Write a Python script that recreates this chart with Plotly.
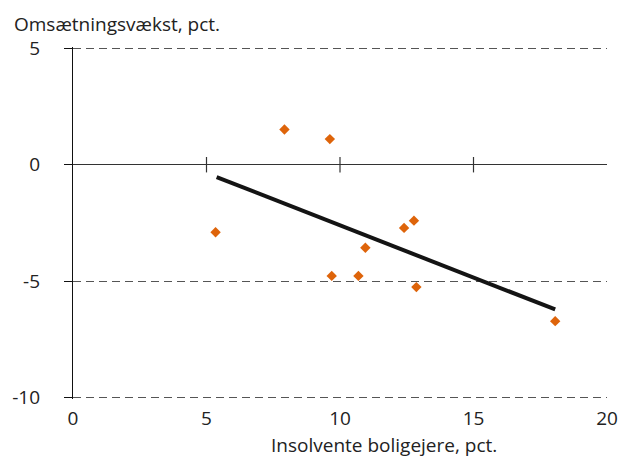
import plotly.graph_objects as go

# Insolvent homeowners (pct.) vs. turnover growth (pct.)
insolvente = [5.34, 7.92, 9.62, 9.69, 10.69, 10.95, 12.40, 12.77, 12.86, 18.06]
omsaetning = [-2.90, 1.51, 1.10, -4.77, -4.77, -3.56, -2.71, -2.40, -5.25, -6.71]

# Linear trend line end points
trend_x = [5.38, 18.06]
trend_y = [-0.53, -6.21]

x_ticks = [0, 5, 10, 15, 20]
x_minor_marks = [5, 10, 15]
y_ticks = [5, 0, -5, -10]

FONT = "Open Sans"
TXT = "#222222"
FS = 19

fig = go.Figure()

fig.add_trace(go.Scatter(
    x=trend_x, y=trend_y, mode="lines",
    line=dict(color="#141414", width=4),
    hoverinfo="skip", showlegend=False,
))

fig.add_trace(go.Scatter(
    x=insolvente, y=omsaetning, mode="markers",
    marker=dict(symbol="diamond", size=8, color="#DE640A", line=dict(width=0)),
    showlegend=False,
))

# small tick marks crossing the zero line
fig.add_trace(go.Scatter(
    x=x_minor_marks, y=[0] * len(x_minor_marks), mode="markers",
    marker=dict(symbol="line-ns", size=11, line=dict(color="#333333", width=1.2)),
    hoverinfo="skip", showlegend=False,
))

fig.update_layout(
    width=630, height=457,
    margin=dict(l=72, r=21, t=47, b=58),
    paper_bgcolor="white", plot_bgcolor="white",
    font=dict(family=FONT, size=FS, color=TXT),
    showlegend=False,
    xaxis=dict(
        range=[0, 20], tickvals=x_ticks, ticktext=[str(v) for v in x_ticks],
        showgrid=False, zeroline=False, showline=False, ticks="",
        ticklabelstandoff=6,
        tickfont=dict(family=FONT, size=FS, color=TXT),
    ),
    yaxis=dict(
        range=[-10.05, 5.05], tickvals=y_ticks, ticktext=[str(v) for v in y_ticks],
        showgrid=True, gridcolor="#555555", gridwidth=1, griddash="8px,5px",
        zeroline=True, zerolinecolor="#333333", zerolinewidth=1.2,
        showline=True, linecolor="#111111", linewidth=1.2,
        ticks="outside", ticklen=8, tickcolor="#111111", tickwidth=1.2,
        ticklabelstandoff=20,
        tickfont=dict(family=FONT, size=FS, color=TXT),
    ),
    annotations=[
        dict(text="Omsætningsvækst, pct.", xref="paper", yref="paper",
             x=(12 - 72) / 537, y=1.0, xanchor="left", yanchor="middle",
             yshift=23, showarrow=False, borderpad=0,
             font=dict(family=FONT, size=FS, color=TXT)),
        dict(text="Insolvente boligejere, pct.", xref="paper", yref="paper",
             x=0.583, y=(398 - 444) / 350, xanchor="center", yanchor="middle",
             showarrow=False, borderpad=0,
             font=dict(family=FONT, size=FS, color=TXT)),
    ],
)

fig.write_html("out.html")
